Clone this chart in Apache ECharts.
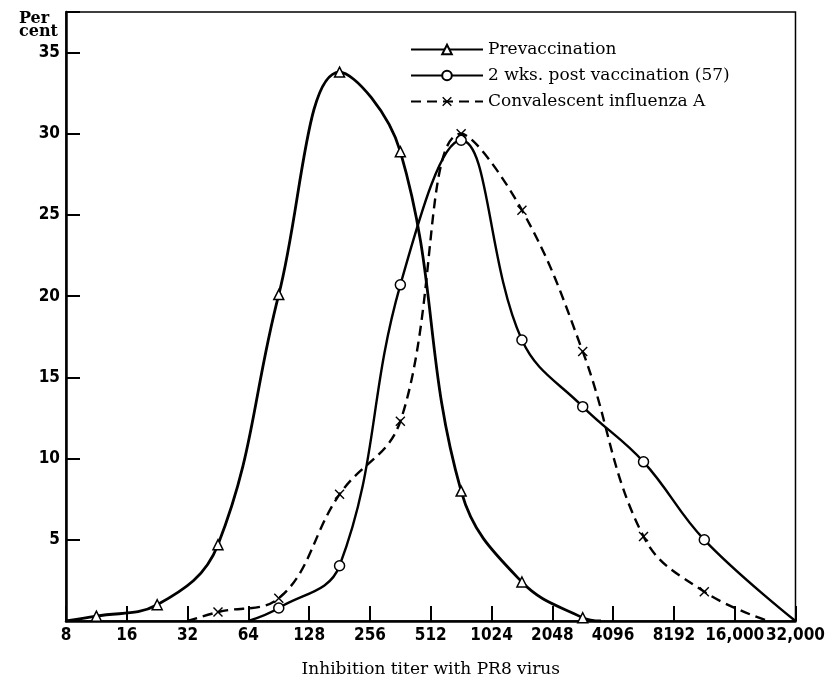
<!DOCTYPE html>
<html>
<head>
<meta charset="utf-8">
<script src="https://cdn.jsdelivr.net/npm/echarts@6/dist/echarts.min.js"></script>
<style>html,body{margin:0;padding:0;background:#fff;}#c{width:828px;height:683px;}</style>
</head>
<body>
<div id="c"></div>
<script>
// x positions are log2(titer/8): 0 -> 8, 1 -> 16, ..., 12 -> 32,000
const tickLabels = ['8','16','32','64','128','256','512','1024','2048','4096','8192','16,000','32,000'];

const preX = [0, 0.5, 1.5, 2.5, 3.5, 4.5, 5.5, 6.5, 7.5, 8.5, 8.8];
const preY = [0, 0.3, 1.0, 4.7, 20.1, 33.8, 28.9, 8.0, 2.4, 0.2, 0];
const preMark = [false, true, true, true, true, true, true, true, true, true, false];

const postX = [3.0, 3.5, 4.5, 5.5, 6.5, 7.5, 8.5, 9.5, 10.5, 12];
const postY = [0, 0.8, 3.4, 20.7, 29.6, 17.3, 13.2, 9.8, 5.0, 0];
const postMark = [false, true, true, true, true, true, true, true, true, false];

const convX = [2.0, 2.5, 3.5, 4.5, 5.5, 6.5, 7.5, 8.5, 9.5, 10.5, 11.55];
const convY = [0, 0.55, 1.4, 7.8, 12.3, 30.0, 25.3, 16.6, 5.2, 1.8, 0];
const convMark = [false, true, true, true, true, true, true, true, true, true, false];

const seriesNames = ['Prevaccination', '2 wks. post vaccination (57)', 'Convalescent influenza A'];

function pts(xs, ys, marks) {
  return xs.map((x, i) => ({ value: [x, ys[i]], symbol: marks[i] ? undefined : 'none' }));
}

const crossPath = 'path://M0,1L1,0L5,4L9,0L10,1L6,5L10,9L9,10L5,6L1,10L0,9L4,5Z';
const serifFont = '"DejaVu Serif", "Liberation Serif", serif';
const numFont = '"DejaVu Sans Condensed", "DejaVu Sans", sans-serif';

const chart = echarts.init(document.getElementById('c'));
chart.setOption({
  animation: false,
  backgroundColor: '#fff',
  title: {
    text: 'Per\ncent',
    left: 14, top: 7,
    textStyle: { fontFamily: serifFont, fontSize: 16, fontWeight: 'bold', lineHeight: 13, color: '#000' }
  },
  legend: {
    orient: 'vertical',
    left: 405, top: 36,
    itemWidth: 72, itemHeight: 12, itemGap: 9,
    data: seriesNames,
    textStyle: { fontFamily: serifFont, fontSize: 17, color: '#000' }
  },
  grid: {
    left: 66, right: 31, top: 12, bottom: 60,
    show: true, borderColor: '#000', borderWidth: 1.5, backgroundColor: 'transparent'
  },
  xAxis: {
    type: 'value', min: 0, max: 12, interval: 1,
    name: 'Inhibition titer with PR8 virus',
    nameLocation: 'middle', nameGap: 40,
    nameTextStyle: { fontFamily: serifFont, fontSize: 17, color: '#000' },
    axisLine: { lineStyle: { color: '#000', width: 2.5 } },
    axisTick: { inside: true, length: 15, lineStyle: { color: '#000', width: 2 } },
    splitLine: { show: false },
    axisLabel: {
      margin: 6, fontFamily: numFont, fontSize: 17, fontWeight: 'bold', color: '#000',
      formatter: v => tickLabels[Math.round(v)] || ''
    }
  },
  yAxis: {
    type: 'value', min: 0, max: 37.5, interval: 5,
    axisLine: { show: true, lineStyle: { color: '#000', width: 2.5 } },
    axisTick: { inside: true, length: 14, lineStyle: { color: '#000', width: 2 } },
    splitLine: { show: false },
    axisLabel: {
      margin: 6, fontFamily: numFont, fontSize: 17, fontWeight: 'bold', color: '#000',
      formatter: v => (v > 0 && v % 5 === 0) ? String(v) : ''
    }
  },
  series: [
    {
      name: seriesNames[0], type: 'line', smooth: 0.4,
      data: pts(preX, preY, preMark),
      symbol: 'triangle', symbolSize: 10,
      itemStyle: { color: '#fff', borderColor: '#000', borderWidth: 1.5 },
      lineStyle: { color: '#000', width: 2.8 }
    },
    {
      name: seriesNames[1], type: 'line', smooth: 0.4,
      data: pts(postX, postY, postMark),
      symbol: 'circle', symbolSize: 10,
      itemStyle: { color: '#fff', borderColor: '#000', borderWidth: 1.5 },
      lineStyle: { color: '#000', width: 2.4 }
    },
    {
      name: seriesNames[2], type: 'line', smooth: 0.4,
      data: pts(convX, convY, convMark),
      symbol: crossPath, symbolSize: 10,
      itemStyle: { color: '#000', borderColor: '#000', borderWidth: 0 },
      lineStyle: { color: '#000', width: 2.4, type: [10, 6] }
    }
  ]
});
</script>
</body>
</html>
